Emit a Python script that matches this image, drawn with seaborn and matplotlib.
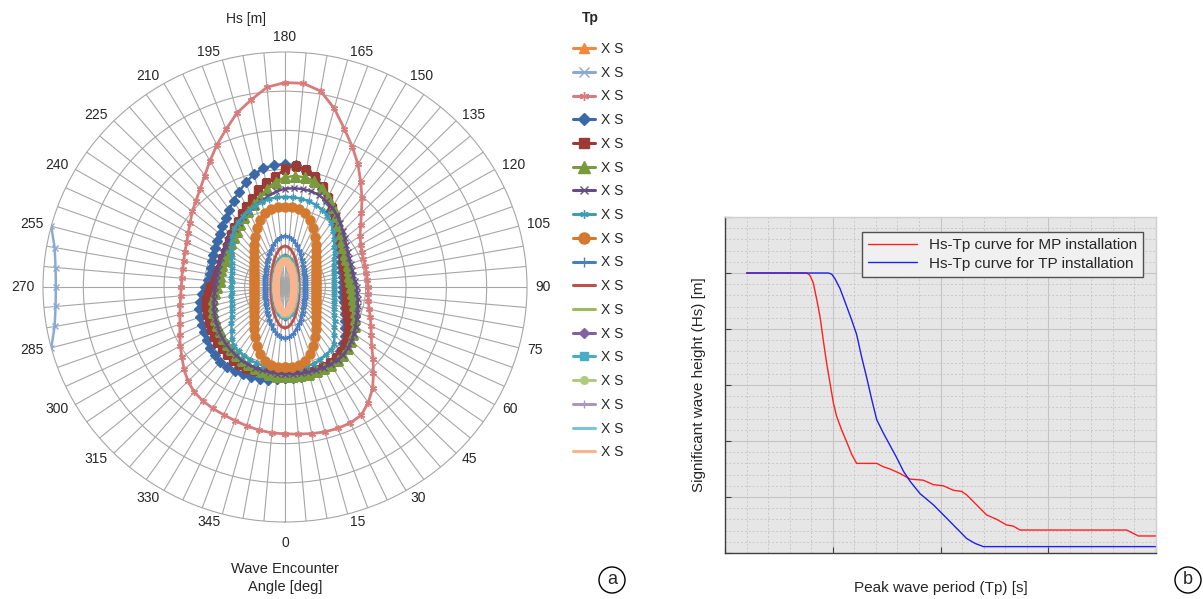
import numpy as np
import matplotlib
matplotlib.use("Agg")
import matplotlib.pyplot as plt
from matplotlib.lines import Line2D
from matplotlib.ticker import MultipleLocator
import seaborn as sns

sns.set_style("white")
plt.rcParams["font.family"] = ["Liberation Sans", "DejaVu Sans"]

# ---------------- data: polar chart (a) ----------------
angles = list(range(0, 360, 5))          # wave encounter angle [deg]

# Tp 1 is off the chart at every angle, Tp 2 only shows near beam seas
tp2_angles = [255, 260, 265, 270, 275, 280, 285]
tp2 = [6.0, 5.8, 5.71, 5.68, 5.71, 5.8, 6.0]

tp3 = [3.75, 3.77, 3.80, 3.83, 3.84, 3.83, 3.78, 3.60, 3.38, 3.10, 2.85, 2.62, 2.47, 2.35, 2.25, 2.16, 2.10, 2.07,
       2.06, 2.05, 2.05, 2.06, 2.07, 2.10, 2.17, 2.27, 2.45, 2.68, 2.97, 3.27, 3.62, 3.95, 4.30, 4.72, 5.08, 5.22,
       5.22, 5.12, 4.85, 4.60, 4.28, 4.00, 3.72, 3.47, 3.27, 3.12, 3.00, 2.87, 2.77, 2.69, 2.64, 2.60, 2.58, 2.57,
       2.57, 2.60, 2.64, 2.70, 2.77, 2.88, 3.00, 3.12, 3.27, 3.40, 3.50, 3.55, 3.58, 3.60, 3.63, 3.67, 3.71, 3.74]

tp4 = [2.33, 2.33, 2.33, 2.32, 2.30, 2.28, 2.25, 2.20, 2.12, 2.03, 1.93, 1.83, 1.73, 1.64, 1.57, 1.51, 1.47, 1.45,
       1.44, 1.44, 1.45, 1.47, 1.50, 1.54, 1.60, 1.67, 1.76, 1.86, 1.97, 2.10, 2.25, 2.45, 2.65, 2.85, 3.02, 3.12,
       3.14, 3.12, 3.08, 2.98, 2.84, 2.69, 2.55, 2.41, 2.29, 2.20, 2.11, 2.05, 2.00, 1.96, 1.93, 1.90, 1.90, 1.91,
       1.98, 2.07, 2.14, 2.20, 2.23, 2.27, 2.31, 2.37, 2.42, 2.46, 2.49, 2.50, 2.48, 2.46, 2.44, 2.42, 2.40, 2.37]

tp5 = [2.20, 2.21, 2.22, 2.24, 2.25, 2.25, 2.24, 2.22, 2.17, 2.10, 2.00, 1.90, 1.80, 1.70, 1.62, 1.56, 1.53, 1.51,
       1.50, 1.51, 1.52, 1.53, 1.54, 1.60, 1.66, 1.74, 1.82, 1.92, 2.02, 2.14, 2.32, 2.50, 2.72, 2.92, 3.03, 3.10,
       3.02, 2.82, 2.70, 2.56, 2.40, 2.26, 2.15, 2.03, 1.95, 1.88, 1.81, 1.76, 1.73, 1.71, 1.69, 1.70, 1.72, 1.75,
       1.85, 1.92, 1.98, 2.02, 2.05, 2.09, 2.12, 2.16, 2.19, 2.22, 2.24, 2.26, 2.27, 2.27, 2.26, 2.24, 2.23, 2.21]

tp6 = [2.28, 2.29, 2.29, 2.29, 2.29, 2.29, 2.29, 2.28, 2.25, 2.20, 2.13, 2.07, 2.00, 1.92, 1.84, 1.76, 1.70, 1.66,
       1.63, 1.62, 1.62, 1.63, 1.66, 1.68, 1.71, 1.76, 1.84, 1.95, 2.05, 2.20, 2.36, 2.54, 2.70, 2.81, 2.84, 2.85,
       2.80, 2.70, 2.55, 2.38, 2.25, 2.15, 2.05, 1.95, 1.87, 1.80, 1.74, 1.70, 1.67, 1.65, 1.65, 1.64, 1.63, 1.63,
       1.68, 1.75, 1.82, 1.86, 1.89, 1.92, 1.95, 1.98, 2.02, 2.05, 2.08, 2.11, 2.14, 2.17, 2.20, 2.23, 2.25, 2.27]

tp7 = [2.22, 2.23, 2.24, 2.25, 2.26, 2.27, 2.27, 2.27, 2.25, 2.21, 2.15, 2.08, 2.02, 1.96, 1.91, 1.87, 1.83, 1.80,
       1.78, 1.74, 1.72, 1.72, 1.73, 1.75, 1.80, 1.86, 1.93, 2.03, 2.14, 2.24, 2.34, 2.42, 2.49, 2.53, 2.54, 2.53,
       2.51, 2.45, 2.36, 2.27, 2.20, 2.13, 2.06, 2.00, 1.94, 1.88, 1.84, 1.80, 1.77, 1.75, 1.73, 1.72, 1.72, 1.72,
       1.73, 1.76, 1.79, 1.83, 1.87, 1.91, 1.95, 1.99, 2.03, 2.07, 2.10, 2.13, 2.16, 2.18, 2.19, 2.20, 2.21, 2.22]

tp8 = [2.08, 2.09, 2.10, 2.10, 2.08, 2.05, 2.01, 1.97, 1.90, 1.73, 1.60, 1.50, 1.41, 1.35, 1.30, 1.27, 1.24, 1.23,
       1.22, 1.23, 1.24, 1.27, 1.30, 1.35, 1.41, 1.50, 1.60, 1.72, 1.86, 2.00, 2.10, 2.18, 2.23, 2.27, 2.29, 2.30,
       2.30, 2.30, 2.28, 2.25, 2.20, 2.14, 2.08, 2.02, 1.95, 1.85, 1.73, 1.62, 1.53, 1.46, 1.41, 1.37, 1.35, 1.33,
       1.33, 1.33, 1.35, 1.37, 1.41, 1.46, 1.53, 1.62, 1.73, 1.87, 1.98, 2.00, 2.03, 2.05, 2.07, 2.08, 2.08, 2.08]

tp9 = [2.04, 2.04, 2.01, 1.95, 1.83, 1.65, 1.47, 1.32, 1.19, 1.08, 1.00, 0.93, 0.88, 0.84, 0.81, 0.79, 0.78, 0.77,
       0.76, 0.77, 0.78, 0.79, 0.81, 0.84, 0.88, 0.93, 1.00, 1.08, 1.19, 1.32, 1.47, 1.65, 1.83, 1.95, 2.01, 2.04,
       2.04, 2.04, 2.01, 1.95, 1.83, 1.65, 1.47, 1.32, 1.19, 1.08, 1.00, 0.93, 0.88, 0.84, 0.81, 0.79, 0.78, 0.77,
       0.76, 0.77, 0.78, 0.79, 0.81, 0.84, 0.88, 0.93, 1.00, 1.08, 1.19, 1.32, 1.47, 1.65, 1.83, 1.95, 2.01, 2.04]

tp10 = [1.31, 1.28, 1.21, 1.11, 1.01, 0.92, 0.83, 0.77, 0.71, 0.66, 0.62, 0.59, 0.56, 0.54, 0.53, 0.52, 0.51, 0.50,
        0.50, 0.50, 0.51, 0.52, 0.53, 0.54, 0.56, 0.59, 0.62, 0.66, 0.71, 0.77, 0.83, 0.92, 1.01, 1.11, 1.21, 1.28,
        1.31, 1.28, 1.21, 1.11, 1.01, 0.92, 0.83, 0.77, 0.71, 0.66, 0.62, 0.59, 0.56, 0.54, 0.53, 0.52, 0.51, 0.50,
        0.50, 0.50, 0.51, 0.52, 0.53, 0.54, 0.56, 0.59, 0.62, 0.66, 0.71, 0.77, 0.83, 0.92, 1.01, 1.11, 1.21, 1.28]

tp11 = [1.05, 1.02, 0.94, 0.85, 0.76, 0.67, 0.61, 0.55, 0.51, 0.47, 0.44, 0.42, 0.40, 0.38, 0.37, 0.36, 0.36, 0.35,
        0.35, 0.35, 0.36, 0.36, 0.37, 0.38, 0.40, 0.42, 0.44, 0.47, 0.51, 0.55, 0.61, 0.67, 0.76, 0.85, 0.94, 1.02,
        1.05, 1.02, 0.94, 0.85, 0.76, 0.67, 0.61, 0.55, 0.51, 0.47, 0.44, 0.42, 0.40, 0.38, 0.37, 0.36, 0.36, 0.35,
        0.35, 0.35, 0.36, 0.36, 0.37, 0.38, 0.40, 0.42, 0.44, 0.47, 0.51, 0.55, 0.61, 0.67, 0.76, 0.85, 0.94, 1.02]

tp12 = [0.82, 0.80, 0.76, 0.70, 0.63, 0.57, 0.52, 0.48, 0.44, 0.41, 0.39, 0.37, 0.35, 0.34, 0.33, 0.32, 0.32, 0.31,
        0.31, 0.31, 0.32, 0.32, 0.33, 0.34, 0.35, 0.37, 0.39, 0.41, 0.44, 0.48, 0.52, 0.57, 0.63, 0.70, 0.76, 0.80,
        0.82, 0.80, 0.76, 0.70, 0.63, 0.57, 0.52, 0.48, 0.44, 0.41, 0.39, 0.37, 0.35, 0.34, 0.33, 0.32, 0.32, 0.31,
        0.31, 0.31, 0.32, 0.32, 0.33, 0.34, 0.35, 0.37, 0.39, 0.41, 0.44, 0.48, 0.52, 0.57, 0.63, 0.70, 0.76, 0.80]

tp13 = [0.76, 0.73, 0.68, 0.61, 0.54, 0.49, 0.44, 0.40, 0.36, 0.34, 0.32, 0.30, 0.29, 0.28, 0.27, 0.26, 0.26, 0.25,
        0.25, 0.25, 0.26, 0.26, 0.27, 0.28, 0.29, 0.30, 0.32, 0.34, 0.36, 0.40, 0.44, 0.49, 0.54, 0.61, 0.68, 0.73,
        0.76, 0.73, 0.68, 0.61, 0.54, 0.49, 0.44, 0.40, 0.36, 0.34, 0.32, 0.30, 0.29, 0.28, 0.27, 0.26, 0.26, 0.25,
        0.25, 0.25, 0.26, 0.26, 0.27, 0.28, 0.29, 0.30, 0.32, 0.34, 0.36, 0.40, 0.44, 0.49, 0.54, 0.61, 0.68, 0.73]

tp14 = [0.72, 0.70, 0.65, 0.58, 0.52, 0.47, 0.42, 0.38, 0.35, 0.32, 0.30, 0.29, 0.27, 0.26, 0.26, 0.25, 0.25, 0.24,
        0.24, 0.24, 0.25, 0.25, 0.26, 0.26, 0.27, 0.29, 0.30, 0.32, 0.35, 0.38, 0.42, 0.47, 0.52, 0.58, 0.65, 0.70,
        0.72, 0.70, 0.65, 0.58, 0.52, 0.47, 0.42, 0.38, 0.35, 0.32, 0.30, 0.29, 0.27, 0.26, 0.26, 0.25, 0.25, 0.24,
        0.24, 0.24, 0.25, 0.25, 0.26, 0.26, 0.27, 0.29, 0.30, 0.32, 0.35, 0.38, 0.42, 0.47, 0.52, 0.58, 0.65, 0.70]

tp15 = [0.70, 0.68, 0.63, 0.57, 0.51, 0.45, 0.41, 0.37, 0.34, 0.31, 0.29, 0.28, 0.27, 0.26, 0.25, 0.24, 0.24, 0.23,
        0.23, 0.23, 0.24, 0.24, 0.25, 0.26, 0.27, 0.28, 0.29, 0.31, 0.34, 0.37, 0.41, 0.45, 0.51, 0.57, 0.63, 0.68,
        0.70, 0.68, 0.63, 0.57, 0.51, 0.45, 0.41, 0.37, 0.34, 0.31, 0.29, 0.28, 0.27, 0.26, 0.25, 0.24, 0.24, 0.23,
        0.23, 0.23, 0.24, 0.24, 0.25, 0.26, 0.27, 0.28, 0.29, 0.31, 0.34, 0.37, 0.41, 0.45, 0.51, 0.57, 0.63, 0.68]

tp16 = [0.68, 0.66, 0.61, 0.55, 0.49, 0.44, 0.39, 0.36, 0.33, 0.31, 0.29, 0.27, 0.26, 0.25, 0.24, 0.23, 0.23, 0.23,
        0.23, 0.23, 0.23, 0.23, 0.24, 0.25, 0.26, 0.27, 0.29, 0.31, 0.33, 0.36, 0.39, 0.44, 0.49, 0.55, 0.61, 0.66,
        0.68, 0.66, 0.61, 0.55, 0.49, 0.44, 0.39, 0.36, 0.33, 0.31, 0.29, 0.27, 0.26, 0.25, 0.24, 0.23, 0.23, 0.23,
        0.23, 0.23, 0.23, 0.23, 0.24, 0.25, 0.26, 0.27, 0.29, 0.31, 0.33, 0.36, 0.39, 0.44, 0.49, 0.55, 0.61, 0.66]

tp17 = [0.67, 0.65, 0.60, 0.54, 0.48, 0.43, 0.39, 0.35, 0.32, 0.30, 0.28, 0.27, 0.25, 0.24, 0.24, 0.23, 0.23, 0.22,
        0.22, 0.22, 0.23, 0.23, 0.24, 0.24, 0.25, 0.27, 0.28, 0.30, 0.32, 0.35, 0.39, 0.43, 0.48, 0.54, 0.60, 0.65,
        0.67, 0.65, 0.60, 0.54, 0.48, 0.43, 0.39, 0.35, 0.32, 0.30, 0.28, 0.27, 0.25, 0.24, 0.24, 0.23, 0.23, 0.22,
        0.22, 0.22, 0.23, 0.23, 0.24, 0.24, 0.25, 0.27, 0.28, 0.30, 0.32, 0.35, 0.39, 0.43, 0.48, 0.54, 0.60, 0.65]

tp18 = [0.66, 0.64, 0.59, 0.53, 0.48, 0.42, 0.38, 0.35, 0.32, 0.30, 0.28, 0.26, 0.25, 0.24, 0.23, 0.23, 0.22, 0.22,
        0.22, 0.22, 0.22, 0.23, 0.23, 0.24, 0.25, 0.26, 0.28, 0.30, 0.32, 0.35, 0.38, 0.42, 0.48, 0.53, 0.59, 0.64,
        0.66, 0.64, 0.59, 0.53, 0.48, 0.42, 0.38, 0.35, 0.32, 0.30, 0.28, 0.26, 0.25, 0.24, 0.23, 0.23, 0.22, 0.22,
        0.22, 0.22, 0.22, 0.23, 0.23, 0.24, 0.25, 0.26, 0.28, 0.30, 0.32, 0.35, 0.38, 0.42, 0.48, 0.53, 0.59, 0.64]

tp_labels = ["X S"] * 18
angle_labels = list(range(0, 360, 15))

# ---------------- data: Hs-Tp curves (b) ----------------
tp_mp = [1.0, 3.79, 3.94, 4.10, 4.25, 4.41, 4.56, 4.72, 4.87, 5.03, 5.18, 5.41, 5.65, 5.88, 6.11, 7.04,
         7.35, 7.66, 8.12, 8.59, 9.20, 9.67, 10.13, 10.60, 10.98, 11.21, 11.52, 11.83, 12.14, 12.61, 13.07,
         13.38, 13.69, 18.64, 19.18, 20.0]
hs_mp = [2.5, 2.5, 2.48, 2.41, 2.27, 2.11, 1.90, 1.69, 1.52, 1.34, 1.22, 1.10, 0.99, 0.88, 0.80, 0.80,
         0.77, 0.75, 0.71, 0.66, 0.65, 0.61, 0.60, 0.56, 0.55, 0.52, 0.46, 0.40, 0.34, 0.30, 0.25,
         0.24, 0.205, 0.205, 0.152, 0.152]
tp_tp = [1.0, 4.80, 4.95, 5.10, 5.34, 5.65, 5.88, 6.11, 6.34, 6.57, 6.81, 7.04, 7.35, 7.66, 7.97, 8.28,
         8.59, 9.05, 9.67, 10.29, 10.75, 11.21, 11.60, 11.99, 20.0]
hs_tp = [2.5, 2.5, 2.49, 2.45, 2.36, 2.20, 2.08, 1.95, 1.75, 1.57, 1.37, 1.19, 1.07, 0.96, 0.85, 0.73,
         0.64, 0.53, 0.43, 0.31, 0.22, 0.13, 0.086, 0.057, 0.057]

# series styles: (values, angles, colour, marker, markersize, linewidth)
styles = [
    (None, None, "#F0883E", "^", 6, 1.8),
    (tp2, tp2_angles, "#8CA9D3", "x", 5, 1.8),
    (tp3, angles, "#D77C7A", (6, 2, 0), 5, 2.0),
    (tp4, angles, "#3B68A6", "D", 4.6, 1.8),
    (tp5, angles, "#9C3A36", "s", 6.3, 1.8),
    (tp6, angles, "#7A9A3E", "^", 6.8, 1.8),
    (tp7, angles, "#644C86", "x", 4.5, 1.8),
    (tp8, angles, "#3E9CB5", (6, 2, 0), 4.5, 1.8),
    (tp9, angles, "#D47A30", "o", 6.5, 1.8),
    (tp10, angles, "#4A7EC0", "+", 5, 1.8),
    (tp11, angles, "#C0504D", None, 0, 2.0),
    (tp12, angles, "#9BBB59", None, 0, 2.0),
    (tp13, angles, "#8064A2", "D", 3.5, 1.8),
    (tp14, angles, "#4BACC6", "s", 4, 1.8),
    (tp15, angles, "#AECB80", "o", 4, 1.8),
    (tp16, angles, "#A896C4", "+", 4, 1.8),
    (tp17, angles, "#7BC4D8", None, 0, 2.0),
    (tp18, angles, "#F8B48C", None, 0, 5.5),
]

fig = plt.figure(figsize=(12.03, 5.99), dpi=100)

# ---------------- polar chart ----------------
ax = fig.add_axes([43 / 1203, 77 / 599, 484 / 1203, 470 / 599], projection="polar")
ax.set_aspect("auto")
ax.set_theta_zero_location("S")
ax.set_theta_direction(1)

handles = []
for vals, angs, col, mk, ms, lw in styles:
    if vals is not None:
        th = list(angs)
        rr = list(vals)
        if len(th) == 72:
            th = th + [360]
            rr = rr + [rr[0]]
        sns.lineplot(x=np.deg2rad(th), y=rr, ax=ax, sort=False, estimator=None,
                     color=col, lw=lw, marker=mk, markersize=ms,
                     markeredgecolor=col, markerfacecolor=col, markeredgewidth=1.0)
    handles.append(Line2D([], [], color=col, lw=2.2, marker=mk, markersize=ms + 1.5,
                          markeredgecolor=col, markerfacecolor=col))

ax.set_ylim(0, 6)
ax.set_yticks([1, 2, 3, 4, 5])
ax.set_yticklabels([])
ax.set_thetagrids(angles, [""] * len(angles))
ax.grid(True, color="#a6a6a6", lw=0.8)
ax.spines["polar"].set_color("#a6a6a6")
ax.spines["polar"].set_linewidth(0.8)
ax.set_xlabel("")
ax.set_ylabel("")

# angle labels placed outside the rim, aligned like the spreadsheet chart
for a in angle_labels:
    t = np.deg2rad(a)
    sx, sy = np.sin(t), -np.cos(t)
    ha = "left" if sx > 0.2 else ("right" if sx < -0.2 else "center")
    if sy > 0.99:
        va, gap = "bottom", 6
    elif sy < -0.99:
        va, gap = "top", 10
    else:
        va, gap = "center", 6
    ax.annotate(str(a), xy=(t, 6), xytext=(gap * sx, gap * sy), textcoords="offset points",
                ha=ha, va=va, fontsize=10, annotation_clip=False)

fig.text(246 / 1203, 1 - 19 / 599, "Hs [m]", ha="center", va="center", fontsize=10)
fig.text(285 / 1203, 1 - 578 / 599, "Wave Encounter\nAngle [deg]", ha="center", va="center",
         fontsize=10.5, linespacing=1.35)

fig.legend(handles, tp_labels, loc="upper left", bbox_to_anchor=(566 / 1203, 1 - 35 / 599),
           frameon=False, fontsize=10, labelspacing=0.7, handlelength=1.6,
           handletextpad=0.45, borderpad=0)
fig.text(590 / 1203, 1 - 18 / 599, "Tp", ha="center", va="center", fontsize=10, fontweight="bold")

# ---------------- Hs-Tp chart ----------------
ax2 = fig.add_axes([725 / 1203, 1 - 553 / 599, 431 / 1203, 336 / 599])
ax2.set_facecolor("#E6E6E6")
sns.lineplot(x=tp_mp, y=hs_mp, ax=ax2, sort=False, estimator=None, color="#FF2020", lw=1.0,
             label="Hs-Tp curve for MP installation")
sns.lineplot(x=tp_tp, y=hs_tp, ax=ax2, sort=False, estimator=None, color="#2020F0", lw=1.0,
             label="Hs-Tp curve for TP installation")
ax2.set_xlim(0, 20)
ax2.set_ylim(0, 3)
ax2.xaxis.set_major_locator(MultipleLocator(5))
ax2.xaxis.set_minor_locator(MultipleLocator(1))
ax2.yaxis.set_major_locator(MultipleLocator(0.5))
ax2.yaxis.set_minor_locator(MultipleLocator(0.1))
ax2.grid(True, which="major", color="#c4c4c4", lw=0.8, ls="-")
ax2.grid(True, which="minor", color="#c8c8c8", lw=0.7, ls=(0, (2, 2)))
ax2.set_axisbelow(True)
ax2.tick_params(which="major", direction="in", length=4, color="#404040",
                labelleft=False, labelbottom=False, left=True, bottom=True)
ax2.tick_params(which="minor", length=0)
for s in ["left", "bottom"]:
    ax2.spines[s].set_color("#404040")
    ax2.spines[s].set_linewidth(1.0)
for s in ["top", "right"]:
    ax2.spines[s].set_color("#cfcfcf")
    ax2.spines[s].set_linewidth(1.0)
ax2.set_xlabel("Peak wave period (Tp) [s]", fontsize=11)
ax2.set_ylabel("Significant wave height (Hs) [m]", fontsize=11)
ax2.xaxis.set_label_coords(0.5, -0.083)
ax2.yaxis.set_label_coords(-0.045, 0.5)
lg2 = ax2.legend(loc="upper right", bbox_to_anchor=(0.988, 0.978), fontsize=11, frameon=True,
                 fancybox=False, edgecolor="#505050", facecolor="#F0F0F0", framealpha=1,
                 handlelength=3.2, borderpad=0.4, labelspacing=0.3)
lg2.get_frame().set_linewidth(1.0)

# panel letters
for x, letter in [(612, "a"), (1188, "b")]:
    fig.text(x / 1203, 1 - 580 / 599, letter, ha="center", va="center", fontsize=13,
             bbox=dict(boxstyle="circle,pad=0.25", fc="white", ec="black", lw=1.0))

fig.savefig("out.png", dpi=100)
